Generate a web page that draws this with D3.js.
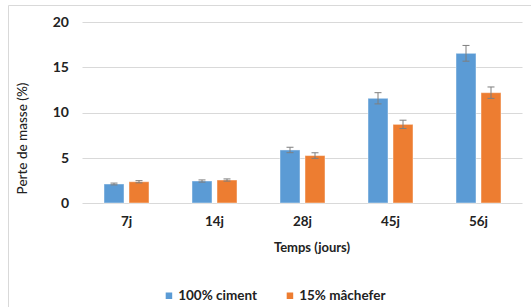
<!DOCTYPE html>
<html>
<head>
<meta charset="utf-8">
<script src="https://cdn.jsdelivr.net/npm/d3@7"></script>
<style>
  html, body { margin: 0; padding: 0; background: #fff; }
  svg { display: block; }
  text { font-family: Lato, "Open Sans", sans-serif; fill: #222; }
</style>
</head>
<body>
<svg id="chart" width="531" height="307"></svg>
<script>
const categories = ["7j", "14j", "28j", "45j", "56j"];
const seriesNames = ["100% ciment", "15% mâchefer"];
const ciment = [2.1, 2.43, 5.86, 11.57, 16.54];
const machefer = [2.35, 2.54, 5.24, 8.69, 12.19];
const errCiment = [0.1, 0.12, 0.3, 0.62, 0.87];
const errMachefer = [0.12, 0.12, 0.31, 0.46, 0.63];
const yTicks = [0, 5, 10, 15, 20];
const colors = ["#5b9bd5", "#ed7d31"];

const svg = d3.select("#chart");

// chart border (partially cut)
svg.append("line").attr("x1", 8.5).attr("x2", 8.5).attr("y1", 5.5).attr("y2", 307)
  .attr("stroke", "#d9d9d9");
svg.append("line").attr("x1", 8.5).attr("x2", 531).attr("y1", 5.5).attr("y2", 5.5)
  .attr("stroke", "#d9d9d9");

const plotL = 82.5, plotR = 522.5, plotT = 22, plotB = 203;
const y = d3.scaleLinear().domain([0, 20]).range([plotB, plotT]);
const x0 = d3.scaleBand().domain(categories).range([plotL, plotR]).padding(0);
const x1 = d3.scaleBand().domain(seriesNames).paddingInner(0.2).paddingOuter(0);

// gridlines
svg.append("g").selectAll("line").data(yTicks).join("line")
  .attr("x1", plotL).attr("x2", plotR)
  .attr("y1", d => Math.round(y(d)) + 0.5).attr("y2", d => Math.round(y(d)) + 0.5)
  .attr("stroke", "#d9d9d9").attr("stroke-width", 1);

// y axis labels
const yAxis = d3.axisLeft(y).tickValues(yTicks).tickSize(0).tickPadding(0);
const gy = svg.append("g").attr("transform", "translate(69,0)").call(yAxis);
gy.select(".domain").remove();
gy.selectAll("text").style("font-size", "14px").style("font-weight", "bold")
  .style("font-family", "Lato, sans-serif").attr("fill", "#222");

// x axis labels
const xAxis = d3.axisBottom(x0).tickSize(0).tickPadding(0);
const gx = svg.append("g").attr("transform", "translate(0,216)").call(xAxis);
gx.select(".domain").remove();
gx.selectAll("text").style("font-size", "13.5px").style("font-weight", "bold")
  .style("font-family", "Lato, sans-serif").attr("fill", "#222");

// bars
const data = categories.map((c, i) => ({
  cat: c,
  vals: [
    { s: seriesNames[0], v: ciment[i], e: errCiment[i], k: 0 },
    { s: seriesNames[1], v: machefer[i], e: errMachefer[i], k: 1 }
  ]
}));
const groups = svg.append("g").selectAll("g").data(data).join("g")
  .attr("transform", d => `translate(${x0(d.cat) + x0.bandwidth() / 2 - 22.5},0)`);
x1.range([0, 45]);
groups.selectAll("rect").data(d => d.vals).join("rect")
  .attr("x", d => x1(d.s))
  .attr("width", x1.bandwidth())
  .attr("y", d => y(d.v))
  .attr("height", d => y(0) - y(d.v))
  .attr("fill", d => colors[d.k])
  .attr("stroke", "rgba(255,255,255,0.45)")
  .attr("stroke-width", 1);

// error bars
const eb = groups.selectAll("g.err").data(d => d.vals).join("g").attr("class", "err");
eb.append("line")
  .attr("x1", d => x1(d.s) + x1.bandwidth() / 2).attr("x2", d => x1(d.s) + x1.bandwidth() / 2)
  .attr("y1", d => y(d.v + d.e)).attr("y2", d => y(d.v - d.e))
  .attr("stroke", "#7f7f7f").attr("stroke-width", 1);
eb.selectAll("line.cap").data(d => [
    { d, v: d.v + d.e }, { d, v: d.v - d.e }
  ]).join("line").attr("class", "cap")
  .attr("x1", o => x1(o.d.s) + x1.bandwidth() / 2 - 3.5)
  .attr("x2", o => x1(o.d.s) + x1.bandwidth() / 2 + 3.5)
  .attr("y1", o => y(o.v)).attr("y2", o => y(o.v))
  .attr("stroke", "#7f7f7f").attr("stroke-width", 1);

// axis titles
svg.append("text")
  .attr("transform", "translate(27,138.5) rotate(-90)")
  .attr("text-anchor", "middle")
  .style("font-size", "13.5px").style("font-weight", "500")
  .text("Perte de masse (%)");
svg.append("text")
  .attr("x", 312).attr("y", 252)
  .attr("text-anchor", "middle")
  .style("font-size", "13px").style("font-weight", "bold")
  .text("Temps (jours)");

// legend
const legX = [165.7, 286.7];
const leg = svg.append("g").selectAll("g").data(seriesNames).join("g")
  .attr("transform", (d, i) => `translate(${legX[i]},0)`);
leg.append("rect").attr("x", 0).attr("y", 292.5).attr("width", 6.5).attr("height", 6.5)
  .attr("fill", (d, i) => colors[i]);
leg.append("text").attr("x", 12.5).attr("y", 299.5)
  .style("font-size", "13.5px").style("font-weight", "bold")
  .text(d => d);
</script>
</body>
</html>
